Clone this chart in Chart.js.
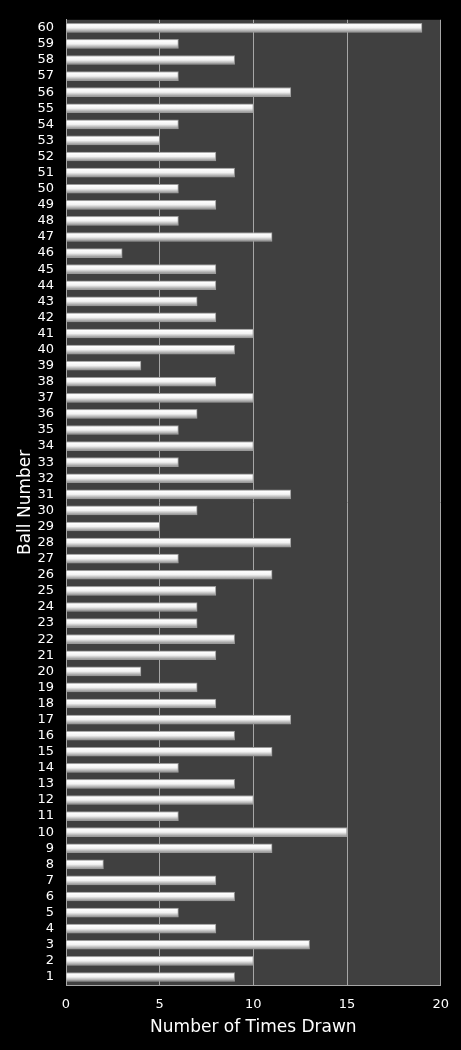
<!DOCTYPE html>
<html>
<head>
<meta charset="utf-8">
<script src="https://cdn.jsdelivr.net/npm/chart.js@4/dist/chart.umd.min.js"></script>
<style>
  html, body { margin: 0; padding: 0; background: #000; }
  #wrap { width: 461px; height: 1050px; position: relative; }
</style>
</head>
<body>
<div id="wrap"><canvas id="c"></canvas></div>
<script>
const ballNumbers = [
  '1','2','3','4','5','6','7','8','9','10',
  '11','12','13','14','15','16','17','18','19','20',
  '21','22','23','24','25','26','27','28','29','30',
  '31','32','33','34','35','36','37','38','39','40',
  '41','42','43','44','45','46','47','48','49','50',
  '51','52','53','54','55','56','57','58','59','60'
];
const timesDrawn = [
  9, 10, 13, 8, 6, 9, 8, 2, 11, 15,
  6, 10, 9, 6, 11, 9, 12, 8, 7, 4,
  8, 9, 7, 7, 8, 11, 6, 12, 5, 7,
  12, 10, 6, 10, 6, 7, 10, 8, 4, 9,
  10, 8, 7, 8, 8, 3, 11, 6, 8, 6,
  9, 8, 5, 6, 10, 12, 6, 9, 6, 19
];
const xTicks = [0, 5, 10, 15, 20];
const xTitle = 'Number of Times Drawn';
const yTitle = 'Ball Number';

const FONT = "'DejaVu Sans', Verdana, sans-serif";
const BAR_H = 9;

const plotBg = {
  id: 'plotBg',
  beforeDraw(chart) {
    const { ctx, chartArea: a } = chart;
    ctx.save();
    ctx.fillStyle = '#404040';
    ctx.fillRect(a.left, a.top, a.right - a.left, a.bottom - a.top);
    ctx.restore();
  }
};

function barFill(ctx) {
  const chart = ctx.chart;
  if (!chart.chartArea || ctx.type !== 'data') return '#eeeeee';
  const y = chart.scales.y.getPixelForValue(ctx.dataIndex);
  const g = chart.ctx.createLinearGradient(0, y - BAR_H / 2, 0, y + BAR_H / 2);
  g.addColorStop(0, '#d0d0d0');
  g.addColorStop(0.15, '#ffffff');
  g.addColorStop(0.5, '#f2f2f2');
  g.addColorStop(1, '#8c8c8c');
  return g;
}

new Chart(document.getElementById('c'), {
  type: 'bar',
  data: {
    labels: ballNumbers,
    datasets: [{
      data: timesDrawn,
      backgroundColor: barFill,
      borderColor: '#9a9a9a',
      borderWidth: 1,
      barThickness: BAR_H
    }]
  },
  options: {
    indexAxis: 'y',
    responsive: true,
    maintainAspectRatio: false,
    animation: false,
    layout: { padding: { top: 18, right: 20, bottom: 0, left: 0 } },
    plugins: { legend: { display: false }, tooltip: { enabled: false } },
    scales: {
      x: {
        min: 0, max: 20,
        afterBuildTicks(scale) { scale.ticks = xTicks.map(v => ({ value: v })); },
        afterFit(scale) { scale.height = 65; },
        grid: { color: '#a6a6a6', lineWidth: 1, drawTicks: false },
        border: { color: '#a6a6a6', width: 1 },
        ticks: { color: '#ffffff', font: { family: FONT, size: 13 }, padding: 12 },
        title: { display: true, text: xTitle, color: '#ffffff', font: { family: FONT, size: 17 }, padding: { top: 4, bottom: 12 } }
      },
      y: {
        reverse: true,
        afterFit(scale) { scale.width = 66; },
        grid: { display: false, drawTicks: false },
        border: { color: '#a6a6a6', width: 1 },
        ticks: { color: '#ffffff', font: { family: FONT, size: 13 }, padding: 12, autoSkip: false },
        title: { display: true, text: yTitle, color: '#ffffff', font: { family: FONT, size: 17 }, padding: { top: 15, bottom: 0 } }
      }
    }
  },
  plugins: [plotBg]
});
</script>
</body>
</html>
